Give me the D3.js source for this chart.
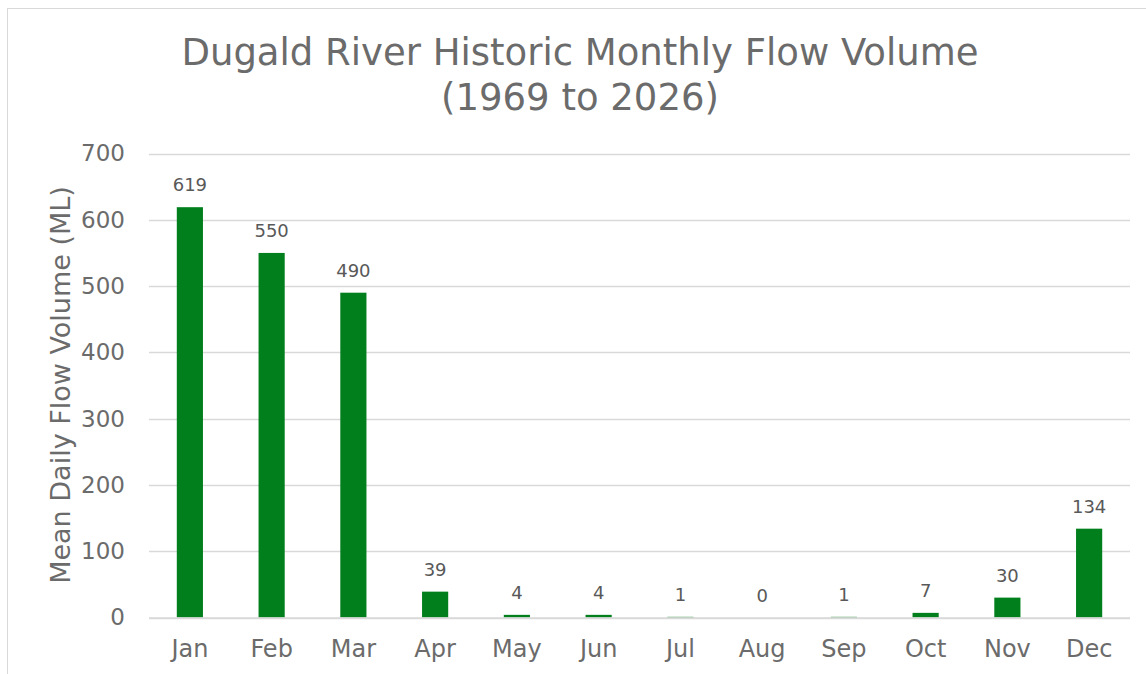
<!DOCTYPE html>
<html><head><meta charset="utf-8">
<script src="https://cdn.jsdelivr.net/npm/d3@7"></script>
<style>body{margin:0;background:#fff}svg{display:block}</style>
</head><body>
<script>
const months = ["Jan","Feb","Mar","Apr","May","Jun","Jul","Aug","Sep","Oct","Nov","Dec"];
const flow = [619,550,490,39,4,4,1,0,1,7,30,134];
const yTicks = [0,100,200,300,400,500,600,700];
const titleLines = ["Dugald River Historic Monthly Flow Volume","(1969 to 2026)"];
const yTitle = "Mean Daily Flow Volume (ML)";

(function(){
const W=1146,H=674;
const svg=d3.select("body").append("svg").attr("width",W).attr("height",H);
const font="DejaVu Sans, Verdana, sans-serif";
svg.append("rect").attr("x",7.5).attr("y",8.5).attr("width",1150).attr("height",700)
  .attr("fill","#fff").attr("stroke","#d9d9d9").attr("stroke-width",1);

const pL=149,pR=1130,pT=153.5,pB=617.5;
const x=d3.scaleBand().domain(months).range([pL,pR]).paddingInner(0.68).paddingOuter(0.34);
const y=d3.scaleLinear().domain([0,700]).range([pB,pT]);

const g=svg.append("g");
g.selectAll("line.grid").data(yTicks).join("line").attr("class","grid")
  .attr("x1",pL).attr("x2",pR).attr("y1",d=>Math.round(y(d))+0.5).attr("y2",d=>Math.round(y(d))+0.5)
  .attr("stroke","#d9d9d9").attr("stroke-width",1.5);

const yAxis=svg.append("g").attr("transform",`translate(${pL},0)`)
  .call(d3.axisLeft(y).tickValues(yTicks).tickSize(0).tickPadding(24));
yAxis.select(".domain").remove();
yAxis.selectAll("text").attr("font-family",font).attr("font-size",23).attr("fill","#6b6b6b");

g.selectAll("rect.bar").data(flow).join("rect").attr("class","bar")
  .attr("x",(d,i)=>x(months[i])).attr("width",x.bandwidth())
  .attr("y",d=>y(d)).attr("height",d=>pB-y(d)).attr("fill","#007f1c");

g.selectAll("text.lbl").data(flow).join("text").attr("class","lbl")
  .attr("x",(d,i)=>x(months[i])+x.bandwidth()/2).attr("y",d=>y(d)-16)
  .attr("text-anchor","middle").attr("font-family",font).attr("font-size",18).attr("fill","#595959")
  .text(d=>d);

const xAxis=svg.append("g").attr("transform",`translate(0,${pB})`)
  .call(d3.axisBottom(x).tickSize(0).tickPadding(22));
xAxis.select(".domain").remove();
xAxis.selectAll("text").attr("font-family",font).attr("font-size",24).attr("fill","#6b6b6b");

svg.append("line").attr("x1",pL).attr("x2",pR).attr("y1",pB+0.5).attr("y2",pB+0.5)
  .attr("stroke","#d9d9d9").attr("stroke-width",1.5);

svg.append("text").attr("transform",`translate(70,385) rotate(-90)`).attr("text-anchor","middle")
  .attr("font-family",font).attr("font-size",27).attr("fill","#6b6b6b").text(yTitle);

svg.selectAll("text.title").data(titleLines).join("text").attr("class","title")
  .attr("x",580).attr("y",(d,i)=>65+i*45).attr("text-anchor","middle")
  .attr("font-family",font).attr("font-size",37).attr("fill","#6b6b6b").text(d=>d);
})();
</script>
</body></html>
